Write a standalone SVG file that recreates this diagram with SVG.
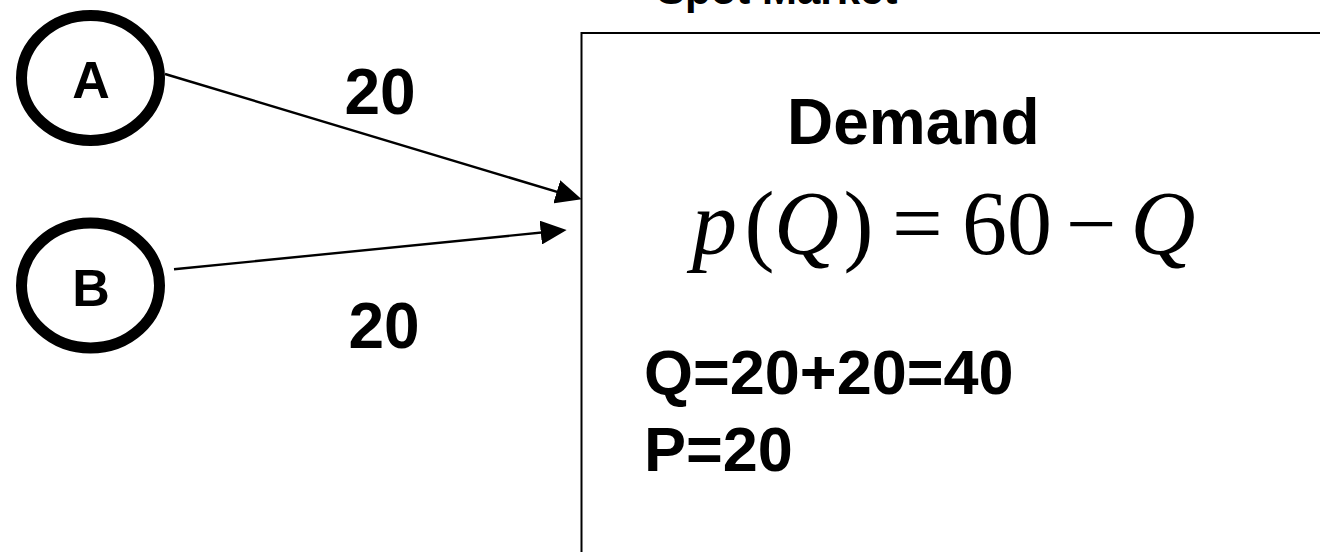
<svg xmlns="http://www.w3.org/2000/svg" width="1320" height="552" viewBox="0 0 1320 552">
<style>
.b{font-family:"Liberation Sans",Arial,sans-serif;font-weight:bold;fill:#000}
.node{fill:#fff;stroke:#000;stroke-width:11}
.conn{stroke:#000;stroke-width:2.4;fill:none}
.m{font-family:"Liberation Serif","Times New Roman",serif;font-size:90px;fill:#000}
.i{font-style:italic}
</style>
<defs>
<marker id="ah" markerUnits="userSpaceOnUse" markerWidth="26" markerHeight="24" refX="16" refY="12" orient="auto">
<path d="M0,0 L26,12 L0,24 Z" fill="#000"/>
</marker>
</defs>
<rect width="1320" height="552" fill="#fff"/>
<g id="market">
<rect x="581.5" y="33" width="760" height="540" fill="#fff" stroke="#000" stroke-width="2"/>
<text class="b" x="657" y="4" font-size="42">Spot Market</text>
<text class="b" x="787" y="144" font-size="64">Demand</text>
<text class="m" y="254" text-anchor="middle"><tspan class="i" x="714.5">p</tspan><tspan x="759.5">(</tspan><tspan class="i" x="806.5">Q</tspan><tspan x="858.5">)</tspan><tspan x="917.5">=</tspan><tspan x="1007">60</tspan><tspan x="1091.5">−</tspan><tspan class="i" x="1163">Q</tspan></text>
<text class="b" x="644" y="393.5" font-size="63">Q=20+20=40</text>
<text class="b" x="644" y="471" font-size="63">P=20</text>
</g>
<g id="nodeA">
<ellipse class="node" cx="90.5" cy="78" rx="69" ry="62.5"/>
<text class="b" x="91" y="98" font-size="52" text-anchor="middle">A</text>
</g>
<g id="nodeB">
<ellipse class="node" cx="90.5" cy="285.5" rx="69" ry="62.5"/>
<text class="b" x="91" y="306" font-size="52" text-anchor="middle">B</text>
</g>
<g id="connectors">
<line class="conn" x1="165" y1="74" x2="572.1" y2="196.4" marker-end="url(#ah)"/>
<line class="conn" x1="174" y1="269.3" x2="556.7" y2="231" marker-end="url(#ah)"/>
<text class="b" x="380" y="114" font-size="64" text-anchor="middle">20</text>
<text class="b" x="384" y="347.5" font-size="64" text-anchor="middle">20</text>
</g>
</svg>
